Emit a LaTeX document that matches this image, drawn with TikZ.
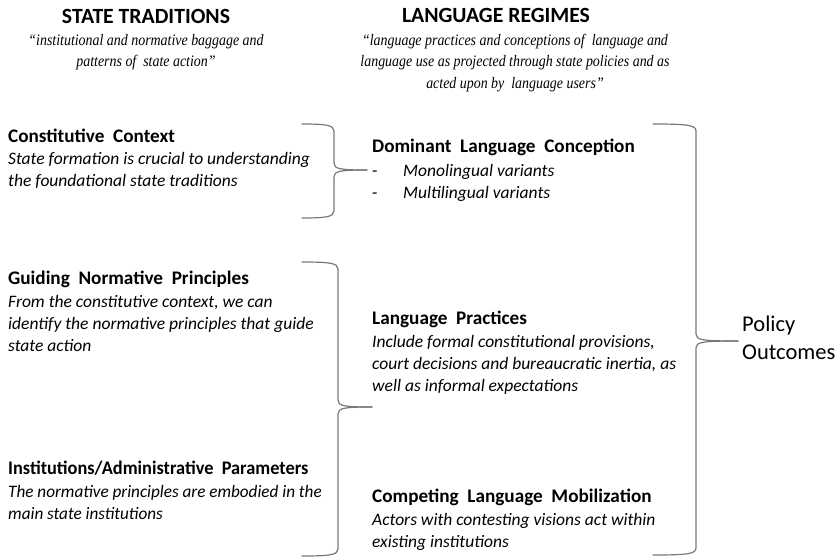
\documentclass[tikz,border=0pt]{standalone}
\usepackage{fontspec}
\setmainfont{Carlito}
\newfontfamily\quotefont[FakeStretch=0.87]{Liberation Serif}
\newcommand\blocklines[1]{\begin{tabular}[t]{@{}l@{}}#1\end{tabular}}
\newcommand\centerlines[1]{\begin{tabular}[t]{@{}c@{}}#1\end{tabular}}
\newcommand\rightbrace[6]{% x0, xv, xt, ytop, ybot, ym
  \draw[bracestyle] (#1,#4) .. controls (#2-9,#4) and (#2,#4+1) .. (#2,#4+7)
    -- (#2,#6-7) .. controls (#2,#6-1) and (#2+6,#6) .. (#3,#6);
  \draw[bracestyle] (#3,#6) .. controls (#2+6,#6) and (#2,#6+1) .. (#2,#6+7)
    -- (#2,#5-7) .. controls (#2,#5-1) and (#2-9,#5) .. (#1,#5);
}
\definecolor{braceGray}{RGB}{120,120,120}
\tikzset{
  head/.style={anchor=base, inner sep=0, font=\fontsize{21.7}{26}\selectfont\bfseries},
  subq/.style={anchor=base, inner sep=0, font=\fontsize{16}{21.5}\selectfont\quotefont\itshape},
  ttl/.style={anchor=base west, inner sep=0, font=\fontsize{19.2}{22}\selectfont\bfseries},
  desc/.style={anchor=base west, inner sep=0, font=\fontsize{17.5}{22}\selectfont\itshape},
  outc/.style={anchor=base west, inner sep=0, font=\fontsize{22.5}{28}\selectfont},
  bracestyle/.style={draw=braceGray, line width=1.2pt, line cap=round}
}
\begin{document}
\begin{tikzpicture}[x=1pt, y=-1pt]
\path[use as bounding box] (0,0) rectangle (840,557);

% column headings
\node[head] (st) at (146,23) {STATE TRADITIONS};
\node[subq] (stq) at (146,45) {\centerlines{“institutional and normative baggage and\\ patterns of\ \ state action”}};
\node[head] (lr) at (496,22) {LANGUAGE REGIMES};
\node[subq] (lrq) at (515,45) {\centerlines{“language practices and conceptions of\ \ language and\\ language use as projected through state policies and as\\ acted upon by\ \ language users”}};

% left column
\node[ttl] (cch) at (8,142) {Constitutive\ \ Context};
\node[desc] (ccb) at (8,164) {\blocklines{State formation is crucial to understanding\\ the foundational state traditions}};

\node[ttl] (gnh) at (8,284) {Guiding\ \ Normative\ \ Principles};
\node[desc] (gnb) at (8,307) {\blocklines{From the constitutive context, we can\\ identify the normative principles that guide\\ state action}};

\node[ttl, font=\fontsize{19.2}{22}\selectfont\bfseries\addfontfeature{FakeStretch=0.955}] (iah) at (8,474) {Institutions/Administrative\ \ Parameters};
\node[desc, font=\fontsize{17.5}{22}\selectfont\itshape\addfontfeature{FakeStretch=0.98}] (iab) at (8,497) {\blocklines{The normative principles are embodied in the\\ main state institutions}};

% middle column
\node[ttl] (dlh) at (372,152) {Dominant\ \ Language\ \ Conception};
\node[desc, font=\fontsize{17.5}{22}\selectfont] (d1) at (372,176) {-};
\node[desc] (m1) at (403,176) {Monolingual variants};
\node[desc, font=\fontsize{17.5}{22}\selectfont] (d2) at (372,198) {-};
\node[desc] (m2) at (403,198) {Multilingual variants};

\node[ttl] (lph) at (372,324) {Language\ \ Practices};
\node[desc] (lpb) at (372,347) {\blocklines{Include formal constitutional provisions,\\ court decisions and bureaucratic inertia, as\\ well as informal expectations}};

\node[ttl] (clh) at (372,502) {Competing\ \ Language\ \ Mobilization};
\node[desc] (clb) at (372,525) {\blocklines{Actors with contesting visions act within\\ existing institutions}};

% outcome
\node[outc] (po) at (742,331) {\blocklines{Policy\\ Outcomes}};

% braces
\rightbrace{302}{334}{367}{124}{218}{170}
\rightbrace{302}{338}{372}{262}{556}{407}
\rightbrace{653}{696}{738}{124}{555}{341}
\end{tikzpicture}
\end{document}
